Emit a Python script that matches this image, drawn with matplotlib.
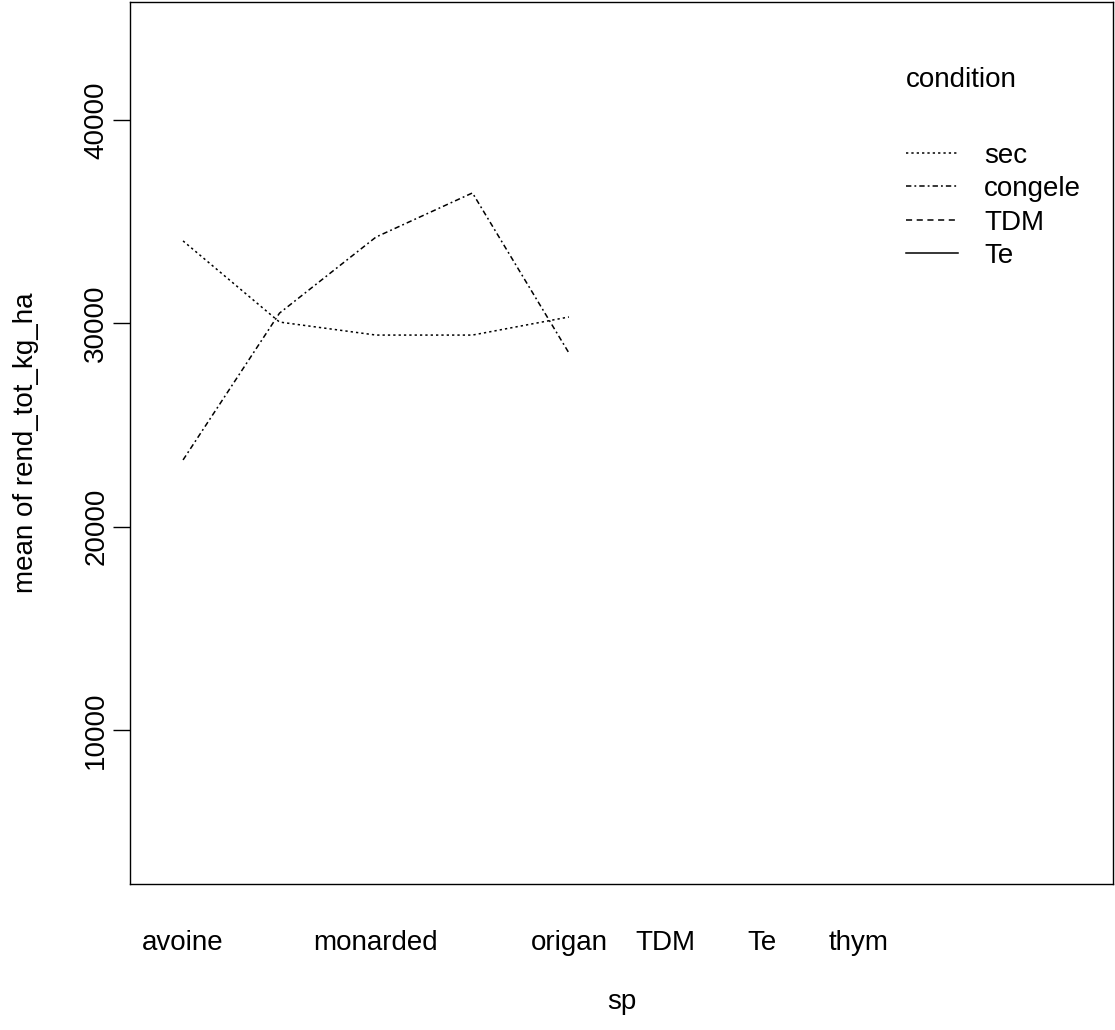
import numpy as np
import matplotlib
matplotlib.use("Agg")
import matplotlib.pyplot as plt
from matplotlib.lines import Line2D

plt.rcParams['font.family'] = ['Liberation Sans', 'DejaVu Sans']

# sp levels (two labels are hidden in the original because they overlap)
sp_levels = ['avoine', '', 'monarded', '', 'origan', 'TDM', 'Te', 'thym']
sp_used = [1, 2, 3, 4, 5]

# mean of rend_tot_kg_ha per condition
sec = [34050, 30060, 29420, 29420, 30310]
congele = [23280, 30500, 34240, 36410, 28540]

conditions = ['sec', 'congele', 'TDM', 'Te']
styles = [(0, (1.5, 2.0)), (0, (3.5, 2.0, 1.2, 2.0)), (0, (4, 3)), '-']

fs = 20

fig = plt.figure(figsize=(11.15, 10.3), dpi=100)
ax = fig.add_axes([130/1115, 146/1030, 983/1115, 882/1030])

ax.plot(sp_used, sec, color='black', lw=1.1, linestyle=styles[0])
ax.plot(sp_used, congele, color='black', lw=1.1, linestyle=styles[1])

ax.set_xlim(0.45, 10.64)
ax.set_ylim(2425, 45800)

ax.set_yticks([10000, 20000, 30000, 40000])
ax.set_yticklabels(['10000', '20000', '30000', '40000'], rotation=90, va='center')
ax.tick_params(axis='y', length=12, width=1, labelsize=fs, pad=3)

ax.set_xticks(range(1, len(sp_levels) + 1))
ax.set_xticklabels(sp_levels)
ax.tick_params(axis='x', length=0, labelsize=fs, pad=33)

for s in ax.spines.values():
    s.set_linewidth(1)

ax.set_xlabel('sp', fontsize=fs, labelpad=24)
ax.set_ylabel('mean of rend_tot_kg_ha', fontsize=fs, labelpad=32)

handles = [Line2D([], [], color='black', lw=1.1, linestyle=st) for st in styles]
leg = ax.legend(handles, conditions, title='condition\n', alignment='left',
                loc='upper left', bbox_to_anchor=(906/1115, 1 - 67/1030),
                bbox_transform=fig.transFigure, frameon=False, fontsize=fs,
                title_fontsize=fs, borderpad=0, borderaxespad=0,
                handlelength=1.87, handletextpad=0.94, labelspacing=0.27)
leg.get_title().set_linespacing(1.8)

fig.savefig('out.png', dpi=100)
